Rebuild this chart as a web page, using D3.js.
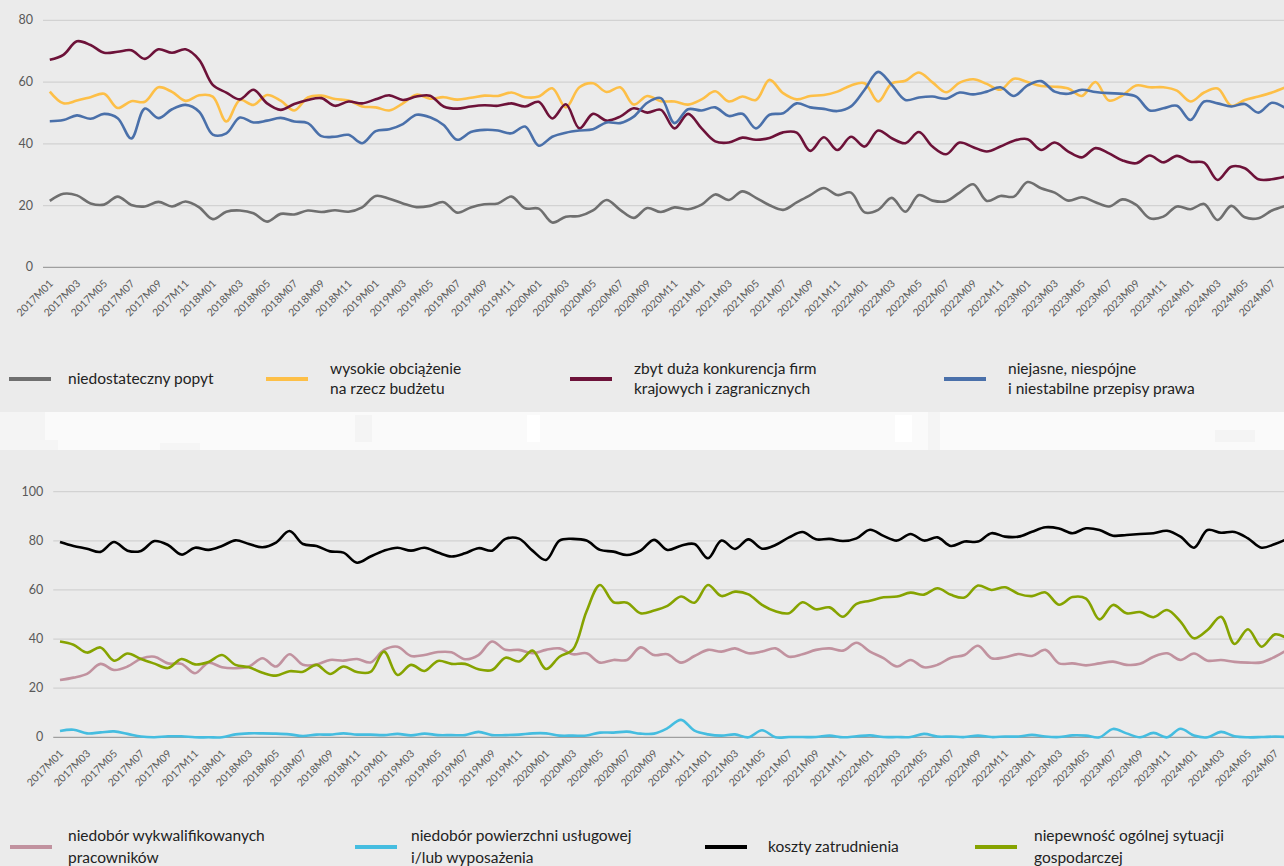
<!DOCTYPE html>
<html>
<head>
<meta charset="utf-8">
<script src="https://cdn.jsdelivr.net/npm/d3@7"></script>
<style>
  body { margin: 0; background: #ebebeb; }
  svg { display: block; }
  text { font-family: Lato, "Open Sans", sans-serif; }
</style>
</head>
<body>
<svg id="chart" width="1284" height="866"></svg>
<script>
const W = 1284, H = 866

// month categories 2017M01 .. 2024M08
const years = [2017, 2018, 2019, 2020, 2021, 2022, 2023, 2024]
let months = []
years.forEach(y => {
  for (let m = 1; m <= 12; m++) {
    if (y === 2024 && m > 8) break
    months.push(y + 'M' + (m < 10 ? '0' + m : m))
  }
})

// top panel series
const popyt = [21.5, 23.8, 23.3, 20.7, 20.3, 22.9, 20.2, 19.7, 21.2, 19.7, 21.3, 19.4, 15.6, 18.0, 18.4, 17.5, 14.8, 17.3, 17.1, 18.4, 17.9, 18.5, 18.0, 19.4, 23.1, 22.2, 20.7, 19.5,
  19.9, 21.1, 17.7, 19.4, 20.4, 20.7, 22.9, 19.1, 19.0, 14.5, 16.4, 16.6, 18.4, 21.8, 18.6, 16.0, 19.2, 17.9, 19.4, 18.8, 20.3, 23.6, 21.8, 24.6, 22.5, 20.1, 18.6, 21.0, 23.4, 25.7, 23.4,
  24.2, 17.8, 18.6, 22.5, 18.0, 23.4, 21.6, 21.4, 24.2, 26.9, 21.5, 23.1, 22.9, 27.6, 25.6, 24.2, 21.6, 22.7, 21.1, 19.7, 22.0, 20.2, 15.9, 16.4, 19.7, 18.8, 20.5, 15.3, 19.9, 16.2, 15.9, 18.4, 19.9]
const obciazenie = [56.9, 53.1, 54.0, 55.1, 56.2, 51.6, 53.8, 53.6, 58.3, 56.8, 53.9, 55.7, 55.3, 47.2, 54.2, 52.6, 55.8, 54.0, 50.8, 55.0, 55.6, 54.5, 54.0, 52.1, 51.8, 50.8, 53.1, 55.9,
  54.6, 55.1, 54.3, 54.9, 55.6, 55.5, 56.6, 55.1, 55.3, 58.0, 51.8, 58.3, 59.6, 56.8, 58.3, 52.7, 55.5, 53.8, 53.7, 52.7, 54.4, 57.0, 53.7, 55.3, 54.2, 60.7, 56.4, 54.4, 55.5, 55.8, 56.9,
  58.9, 59.6, 53.7, 59.6, 60.4, 63.1, 59.9, 56.7, 59.8, 60.9, 59.4, 57.5, 61.1, 60.0, 58.7, 58.5, 57.9, 55.5, 60.0, 54.0, 55.7, 58.9, 58.3, 58.3, 57.2, 53.7, 56.6, 57.9, 52.3, 54.2, 55.3, 56.6, 58.3]
const konkurencja = [67.2, 68.8, 73.2, 72.0, 69.5, 69.8, 70.3, 67.5, 70.6, 69.5, 70.6, 67.2, 59.1, 56.6, 54.4, 57.5, 53.1, 51.0, 52.9, 54.2, 54.8, 52.3, 53.7, 53.1, 54.4, 55.7, 54.2, 55.3,
  55.6, 52.1, 51.4, 52.1, 52.5, 52.3, 53.1, 52.1, 53.6, 48.2, 52.8, 45.0, 49.7, 47.5, 48.8, 51.5, 50.1, 51.0, 45.0, 49.7, 45.0, 40.8, 40.4, 42.0, 41.3, 41.9, 43.7, 43.6, 37.7, 42.1, 38.0,
  42.3, 39.1, 44.3, 41.8, 40.2, 43.8, 39.1, 36.6, 40.4, 38.9, 37.5, 39.1, 41.0, 41.5, 38.0, 40.4, 37.5, 35.6, 38.6, 36.9, 34.6, 33.7, 36.2, 34.0, 36.1, 34.2, 33.9, 28.3, 32.6, 32.1, 28.5, 28.5, 29.4]
const przepisy = [47.3, 47.7, 49.2, 48.1, 49.7, 48.3, 41.7, 51.4, 48.3, 51.2, 52.6, 50.4, 43.0, 43.4, 48.5, 46.9, 47.5, 48.4, 47.2, 46.7, 42.5, 42.3, 42.9, 40.2, 44.1, 44.7, 46.4, 49.4,
  48.6, 46.1, 41.3, 43.8, 44.5, 44.3, 43.4, 45.6, 39.4, 42.3, 43.6, 44.3, 44.7, 46.9, 46.7, 48.8, 53.3, 54.8, 46.7, 51.2, 50.8, 51.8, 49.0, 49.7, 45.0, 49.4, 49.9, 53.1, 51.8, 51.3, 50.6,
  52.1, 57.5, 63.3, 59.1, 54.2, 55.0, 55.3, 54.6, 56.6, 56.0, 56.9, 58.3, 55.5, 58.9, 60.3, 56.9, 56.2, 57.5, 56.8, 56.4, 56.2, 55.3, 50.8, 51.5, 52.3, 47.7, 53.7, 53.1, 52.1, 52.9, 50.1, 53.3, 51.5]

// bottom panel series
const wykwalifikowani = [23.3, 24.3, 25.8, 29.9, 27.4, 28.8, 32.0, 32.8, 30.1, 29.9, 26.1, 30.4, 28.5, 28.1, 28.8, 32.2, 28.8, 33.8, 29.5, 29.6, 31.5, 31.2, 31.9, 30.5, 35.6, 36.9, 33.1, 33.5,
  34.7, 34.6, 31.8, 33.5, 39.0, 35.6, 35.6, 34.2, 35.6, 36.2, 33.8, 34.2, 30.4, 31.5, 31.5, 36.6, 33.5, 33.8, 30.4, 33.1, 35.6, 34.9, 36.2, 34.2, 34.9, 36.2, 32.8, 33.8, 35.6, 36.2, 35.3,
  38.5, 34.9, 32.2, 28.8, 31.5, 28.5, 29.5, 32.4, 33.5, 37.3, 32.2, 32.6, 33.9, 33.1, 35.6, 30.1, 30.1, 29.3, 30.1, 30.8, 29.5, 29.9, 32.8, 34.2, 31.5, 34.1, 31.2, 31.5, 30.7, 30.4, 30.5, 32.8, 36.0]
const powierzchnia = [2.6, 3.1, 1.6, 2.0, 2.4, 1.4, 0.3, 0.0, 0.4, 0.4, 0.0, 0.0, 0.0, 1.2, 1.6, 1.6, 1.5, 1.2, 0.5, 1.1, 1.1, 1.6, 1.1, 1.1, 0.9, 1.4, 0.8, 1.5,
  0.9, 0.9, 0.9, 2.2, 0.9, 0.9, 1.1, 1.6, 1.6, 0.7, 0.7, 0.7, 1.9, 1.9, 2.3, 1.5, 1.5, 3.7, 7.1, 2.7, 1.2, 0.7, 1.2, 0.0, 2.9, 0.0, 0.1, 0.1, 0.1, 0.7, 0.0,
  0.4, 0.8, 0.1, 0.1, 0.1, 1.4, 0.3, 0.3, 0.1, 0.7, 0.1, 0.3, 0.3, 1.0, 0.3, 0.1, 0.8, 0.7, 0.0, 3.4, 1.6, 0.0, 1.8, 0.0, 3.5, 0.7, 0.0, 2.2, 0.4, 0.0, 0.1, 0.3, 0.1]
const koszty = [79.5, 77.9, 76.8, 75.5, 79.5, 76.0, 75.9, 79.9, 78.3, 74.4, 77.2, 76.3, 77.9, 80.2, 78.7, 77.4, 79.3, 84.0, 78.7, 77.9, 75.7, 75.2, 71.1, 73.6, 76.0, 77.2, 76.0, 77.2,
  75.2, 73.6, 74.9, 77.0, 76.0, 80.8, 80.9, 76.0, 72.2, 80.1, 80.8, 80.1, 76.3, 75.6, 74.2, 76.0, 80.4, 76.3, 78.0, 78.7, 72.9, 80.1, 76.7, 80.6, 76.8, 78.3, 81.4, 83.6, 80.6, 80.8, 79.9,
  81.0, 84.5, 82.0, 80.1, 82.8, 80.1, 81.4, 77.9, 79.7, 79.7, 83.1, 81.7, 81.7, 83.7, 85.5, 85.0, 83.1, 85.1, 84.4, 82.1, 82.4, 82.8, 83.1, 84.1, 81.7, 77.2, 84.4, 83.3, 83.6, 81.0, 77.2, 78.7, 81.0]
const niepewnosc = [39.0, 37.7, 34.5, 36.6, 31.2, 34.1, 31.9, 30.0, 28.2, 31.9, 29.7, 30.7, 33.5, 29.5, 28.5, 26.3, 25.1, 26.9, 26.7, 29.5, 25.8, 28.8, 26.6, 26.6, 34.9, 25.4, 29.5, 27.0,
  31.1, 29.9, 29.9, 27.7, 27.4, 32.4, 30.9, 35.3, 27.8, 32.8, 35.8, 51.2, 62.0, 55.0, 54.8, 50.5, 51.6, 53.5, 57.3, 54.8, 62.0, 57.5, 59.3, 58.2, 53.9, 51.3, 50.5, 55.0, 52.1, 52.9, 49.1,
  54.3, 55.6, 57.0, 57.3, 58.9, 58.1, 60.7, 58.0, 56.9, 61.8, 60.0, 61.1, 58.4, 57.5, 59.0, 54.0, 57.1, 56.5, 48.0, 53.9, 50.5, 51.0, 48.9, 51.8, 47.1, 40.3, 43.7, 49.1, 38.0, 44.0, 36.9, 41.9, 39.9]

const topTicks = [0, 20, 40, 60, 80]
const bottomTicks = [0, 20, 40, 60, 80, 100]

const topSeries = [
  {name: ['niedostateczny popyt'], values: popyt, colour: '#6f6f6f', lx: 9, tx: 68},
  {name: ['wysokie obciążenie', 'na rzecz budżetu'], values: obciazenie, colour: '#fdbf47', lx: 266, tx: 330},
  {name: ['zbyt duża konkurencja firm', 'krajowych i zagranicznych'], values: konkurencja, colour: '#6d1239', lx: 570, tx: 634},
  {name: ['niejasne, niespójne', 'i niestabilne przepisy prawa'], values: przepisy, colour: '#4a70aa', lx: 944, tx: 1008}
]
const bottomSeries = [
  {name: ['niedobór wykwalifikowanych', 'pracowników'], values: wykwalifikowani, colour: '#c1929f', lx: 10, tx: 68},
  {name: ['niedobór powierzchni usługowej', 'i/lub wyposażenia'], values: powierzchnia, colour: '#45bde0', lx: 355, tx: 411},
  {name: ['koszty zatrudnienia'], values: koszty, colour: '#000000', lx: 705, tx: 768},
  {name: ['niepewność ogólnej sytuacji', 'gospodarczej'], values: niepewnosc, colour: '#86a300', lx: 975, tx: 1034}
]

let svg = d3.select('#chart')

// backgrounds: two grey panels with a pale strip between them
svg.append('rect').attr('x', 0).attr('y', 0).attr('width', W).attr('height', H).attr('fill', '#ebebeb')
svg.append('rect').attr('x', 0).attr('y', 412).attr('width', W).attr('height', 38).attr('fill', '#fafafa')
const stripBlocks = [[0, 412, 45, 28, '#f4f4f4'], [0, 440, 58, 10, '#f5f5f5'], [160, 443, 40, 7, '#f5f5f5'],
  [355, 415, 17, 27, '#f4f4f4'], [527, 415, 13, 27, '#ffffff'], [895, 415, 17, 27, '#ffffff'],
  [928, 412, 12, 38, '#f4f4f4'], [1215, 430, 40, 12, '#f4f4f4']]
svg.selectAll('rect.strip').data(stripBlocks).join('rect')
  .attr('class', 'strip')
  .attr('x', d => d[0]).attr('y', d => d[1]).attr('width', d => d[2]).attr('height', d => d[3])
  .attr('fill', d => d[4])

function drawPanel(cfg) {
  let g = svg.append('g')
  let x = d3.scaleBand().domain(months).range([cfg.left, cfg.left + months.length * cfg.step]).padding(0)
  let y = d3.scaleLinear().domain([0, cfg.ymax]).range([cfg.y0, cfg.ytop])
  let cx = m => x(m) + x.bandwidth() / 2

  // gridlines
  g.selectAll('line.grid').data(cfg.ticks).join('line')
    .attr('x1', cfg.left).attr('x2', W + 20)
    .attr('y1', d => y(d)).attr('y2', d => y(d))
    .attr('stroke', d => d === 0 ? '#9f9f9f' : '#d2d2d2')
    .attr('stroke-width', d => d === 0 ? 1.3 : 1.2)

  // y tick labels
  g.selectAll('text.ytick').data(cfg.ticks).join('text')
    .attr('x', cfg.left - 10).attr('y', d => y(d) + 4)
    .attr('text-anchor', 'end')
    .attr('font-size', 12.5)
    .attr('fill', '#595959')
    .text(d => d)

  // x tick labels, every second month
  g.selectAll('text.xtick').data(months.filter((m, i) => i % 2 === 0)).join('text')
    .attr('text-anchor', 'end')
    .attr('font-size', 10.5)
    .attr('fill', '#595959')
    .attr('transform', m => `translate(${cx(m) + 4},${cfg.y0 + 17}) rotate(-45)`)
    .text(m => m)

  let line = d3.line()
    .x((v, i) => cx(months[i]))
    .y(v => y(v))
    .curve(d3.curveCatmullRom.alpha(0.5))

  g.selectAll('path.series').data(cfg.series).join('path')
    .attr('fill', 'none')
    .attr('stroke', s => s.colour)
    .attr('stroke-width', 2.6)
    .attr('stroke-linejoin', 'round')
    .attr('d', s => line(s.values))

  // legend
  let leg = g.selectAll('g.leg').data(cfg.series).join('g')
  leg.append('line')
    .attr('x1', s => s.lx).attr('x2', s => s.lx + 42)
    .attr('y1', cfg.legendY).attr('y2', cfg.legendY)
    .attr('stroke', s => s.colour).attr('stroke-width', 4)
  leg.each(function(s) {
    let n = s.name.length
    d3.select(this).selectAll('text').data(s.name).join('text')
      .attr('x', s.tx)
      .attr('y', (t, k) => cfg.legendY + 5 + (k - (n - 1) / 2) * cfg.legendGap)
      .attr('font-size', 15.5)
      .attr('fill', '#222')
      .text(t => t)
  })
}

drawPanel({left: 43, step: 13.58, y0: 267.3, ytop: 20.3, ymax: 80, ticks: topTicks,
  series: topSeries, legendY: 379, legendGap: 20.5})
drawPanel({left: 53.25, step: 13.5, y0: 737.3, ytop: 491.7, ymax: 100, ticks: bottomTicks,
  series: bottomSeries, legendY: 847, legendGap: 22})
</script>
</body>
</html>
